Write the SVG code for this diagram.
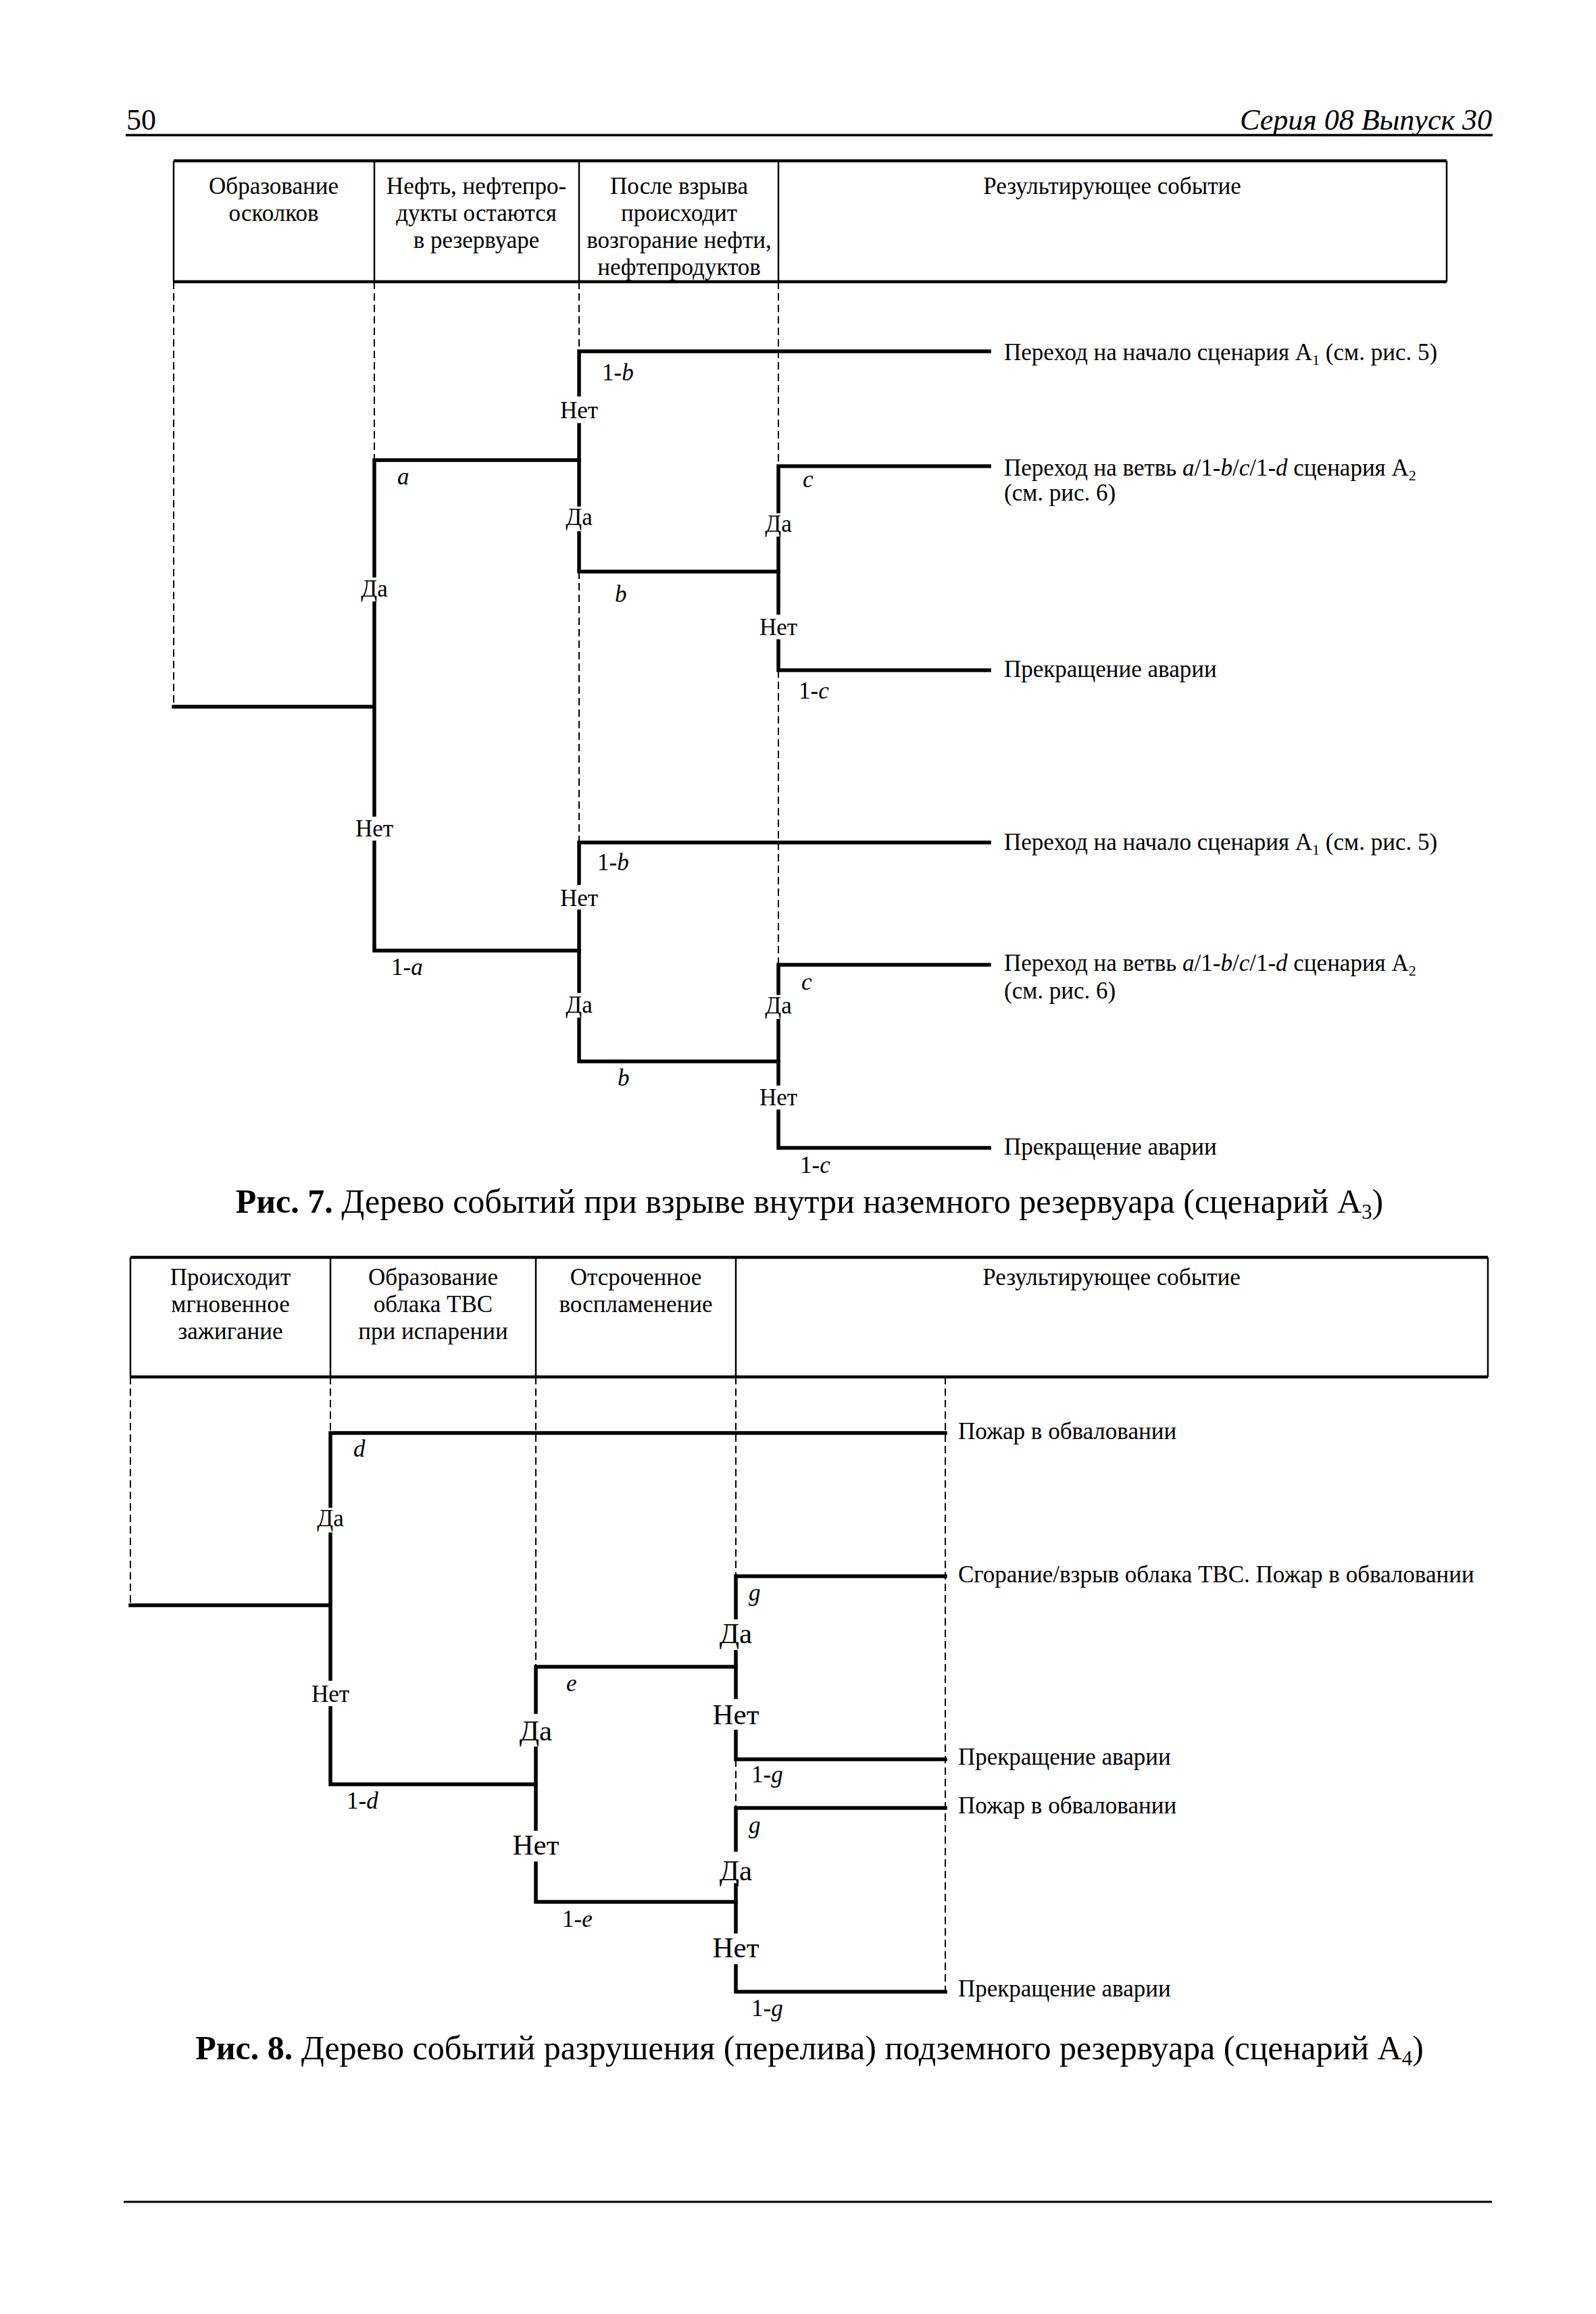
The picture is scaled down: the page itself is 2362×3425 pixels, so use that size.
<svg xmlns="http://www.w3.org/2000/svg" width="2362" height="3425" viewBox="0 0 2362 3425">
<style>
text{font-family:"Liberation Serif","DejaVu Serif",serif;font-size:35px;fill:#000}
.c{text-anchor:middle}
.big{font-size:43px}
.cap{font-size:50px}
.i{font-style:italic}
.sub{font-size:22px}
.t{stroke:#000;stroke-width:5.5;fill:none;stroke-linecap:square}
.d{stroke:#000;stroke-width:2;stroke-dasharray:11 6;fill:none}
.thin{stroke:#000;stroke-width:2.5;fill:none}
.thick{stroke:#000;stroke-width:4.5;fill:none}
</style>
<rect width="2362" height="3425" fill="#fff"/>
<g id="page">
<text x="187" y="192" style="font-size:44px">50</text>
<text x="2208" y="192" class="i" style="font-size:44px;text-anchor:end">Серия 08 Выпуск 30</text>
<path class="thick" d="M186 200H2209" style="stroke-width:3.5"/>
<path class="thick" d="M183 3259H2208" style="stroke-width:3"/>
</g>
<g id="fig7-header">
<path class="thick" d="M257 238H2141M257 417H2141"/>
<path class="thin" d="M257 238V417M554 238V417M857 238V417M1152 238V417M2141 238V417"/>
<text class="c" x="405" y="287">Образование</text>
<text class="c" x="405" y="327">осколков</text>
<text class="c" x="705" y="287">Нефть, нефтепро-</text>
<text class="c" x="705" y="327">дукты остаются</text>
<text class="c" x="705" y="367">в резервуаре</text>
<text class="c" x="1005" y="287">После взрыва</text>
<text class="c" x="1005" y="327">происходит</text>
<text class="c" x="1005" y="367">возгорание нефти,</text>
<text class="c" x="1005" y="407">нефтепродуктов</text>
<text class="c" x="1646" y="287">Результирующее событие</text>
</g>
<g id="fig7-connectors">
<path class="d" d="M257 417V1046M554 417V681M857 417V520M857 846V1247M1152 417V690M1152 992V1428"/>
<path class="t" d="M257 1046H554M554 681V852M554 893V1206M554 1247V1407M554 681H857M554 1407H857"/>
<path class="t" d="M857 520V584M857 629V747M857 789V846M857 520H1464M857 846H1152"/>
<path class="t" d="M1152 690V757M1152 797V907M1152 949V992M1152 690H1464M1152 992H1464"/>
<path class="t" d="M857 1247V1307M857 1349V1467M857 1509V1571M857 1247H1464M857 1571H1152"/>
<path class="t" d="M1152 1428V1470M1152 1511V1604M1152 1645V1699M1152 1428H1464M1152 1699H1464"/>
</g>
<g id="fig7-labels">
<text class="c" x="554" y="883">Да</text>
<text class="c" x="554" y="1238">Нет</text>
<text x="588" y="717" class="i">a</text>
<text x="579" y="1443">1-<tspan class="i">a</tspan></text>
<text class="c" x="857" y="619">Нет</text>
<text class="c" x="857" y="777">Да</text>
<text x="891" y="563">1-<tspan class="i">b</tspan></text>
<text x="910" y="891" class="i">b</text>
<text class="c" x="1152" y="787">Да</text>
<text class="c" x="1152" y="940">Нет</text>
<text x="1188" y="721" class="i">c</text>
<text x="1182" y="1034">1-<tspan class="i">c</tspan></text>
<text class="c" x="857" y="1341">Нет</text>
<text class="c" x="857" y="1499">Да</text>
<text x="884" y="1288">1-<tspan class="i">b</tspan></text>
<text x="914" y="1607" class="i">b</text>
<text class="c" x="1152" y="1500">Да</text>
<text class="c" x="1152" y="1636">Нет</text>
<text x="1186" y="1465" class="i">c</text>
<text x="1184" y="1736">1-<tspan class="i">c</tspan></text>
</g>
<g id="fig7-results">
<text x="1486" y="533">Переход на начало сценария A<tspan class="sub" dy="7">1</tspan><tspan dy="-7"> (см. рис. 5)</tspan></text>
<text x="1486" y="704">Переход на ветвь <tspan class="i">a</tspan>/1-<tspan class="i">b</tspan>/<tspan class="i">c</tspan>/1-<tspan class="i">d</tspan> сценария A<tspan class="sub" dy="7">2</tspan></text>
<text x="1486" y="741">(см. рис. 6)</text>
<text x="1486" y="1002">Прекращение аварии</text>
<text x="1486" y="1258">Переход на начало сценария A<tspan class="sub" dy="7">1</tspan><tspan dy="-7"> (см. рис. 5)</tspan></text>
<text x="1486" y="1437">Переход на ветвь <tspan class="i">a</tspan>/1-<tspan class="i">b</tspan>/<tspan class="i">c</tspan>/1-<tspan class="i">d</tspan> сценария A<tspan class="sub" dy="7">2</tspan></text>
<text x="1486" y="1478">(см. рис. 6)</text>
<text x="1486" y="1709">Прекращение аварии</text>
</g>
<g id="fig7-caption">
<text class="c cap" x="1198" y="1795"><tspan font-weight="bold">Рис. 7.</tspan> Дерево событий при взрыве внутри наземного резервуара (сценарий A<tspan style="font-size:31px" dy="9">3</tspan><tspan dy="-9">)</tspan></text>
</g>
<g id="fig8-header">
<path class="thick" d="M193 1861H2202M193 2038H2202"/>
<path class="thin" d="M193 1861V2038M489 1861V2038M793 1861V2038M1089 1861V2038M2202 1861V2038"/>
<text class="c" x="341" y="1902">Происходит</text>
<text class="c" x="341" y="1942">мгновенное</text>
<text class="c" x="341" y="1982">зажигание</text>
<text class="c" x="641" y="1902">Образование</text>
<text class="c" x="641" y="1942">облака ТВС</text>
<text class="c" x="641" y="1982">при испарении</text>
<text class="c" x="941" y="1902">Отсроченное</text>
<text class="c" x="941" y="1942">воспламенение</text>
<text class="c" x="1645" y="1902">Результирующее событие</text>
</g>
<g id="fig8-connectors">
<path class="d" d="M193 2038V2376M489 2038V2121M793 2038V2467M1089 2038V2333M1089 2604V2676M1399 2038V2948"/>
<path class="t" d="M193 2376H489M489 2121V2229M489 2271V2485M489 2528V2641M489 2121H1399M489 2641H793"/>
<path class="t" d="M793 2467V2534M793 2588V2707M793 2758V2815M793 2467H1089M793 2815H1089"/>
<path class="t" d="M1089 2333V2394M1089 2445V2512M1089 2563V2604M1089 2333H1399M1089 2604H1399"/>
<path class="t" d="M1089 2676V2738M1089 2790V2859M1089 2910V2948M1089 2676H1399M1089 2948H1399"/>
</g>
<g id="fig8-labels">
<text class="c" x="489" y="2259">Да</text>
<text class="c" x="489" y="2519">Нет</text>
<text x="523" y="2156" class="i">d</text>
<text x="513" y="2677">1-<tspan class="i">d</tspan></text>
<text class="c big" x="793" y="2576">Да</text>
<text class="c big" x="793" y="2745">Нет</text>
<text x="838" y="2503" class="i">e</text>
<text x="832" y="2852">1-<tspan class="i">e</tspan></text>
<text class="c big" x="1089" y="2432">Да</text>
<text class="c big" x="1089" y="2552">Нет</text>
<text x="1108" y="2369" class="i">g</text>
<text x="1112" y="2638">1-<tspan class="i">g</tspan></text>
<text class="c big" x="1089" y="2783">Да</text>
<text class="c big" x="1089" y="2897">Нет</text>
<text x="1108" y="2713" class="i">g</text>
<text x="1112" y="2984">1-<tspan class="i">g</tspan></text>
</g>
<g id="fig8-results">
<text x="1418" y="2130">Пожар в обваловании</text>
<text x="1418" y="2342">Сгорание/взрыв облака ТВС. Пожар в обваловании</text>
<text x="1418" y="2612">Прекращение аварии</text>
<text x="1418" y="2684">Пожар в обваловании</text>
<text x="1418" y="2955">Прекращение аварии</text>
</g>
<g id="fig8-caption">
<text class="c cap" x="1198" y="3048"><tspan font-weight="bold">Рис. 8.</tspan> Дерево событий разрушения (перелива) подземного резервуара (сценарий A<tspan style="font-size:31px" dy="9">4</tspan><tspan dy="-9">)</tspan></text>
</g>
</svg>
